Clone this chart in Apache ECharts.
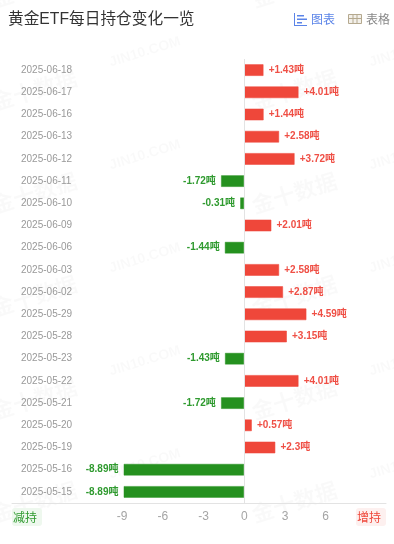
<!DOCTYPE html>
<html><head><meta charset="utf-8">
<style>html,body{margin:0;padding:0;background:#fff}#c{width:394px;height:544px}</style>
<script src="https://cdn.jsdelivr.net/npm/echarts@6/dist/echarts.min.js"></script>
</head><body><div id="c"></div>
<script>
const dates = ['2025-06-18','2025-06-17','2025-06-16','2025-06-13','2025-06-12','2025-06-11','2025-06-10','2025-06-09','2025-06-06','2025-06-03','2025-06-02','2025-05-29','2025-05-28','2025-05-23','2025-05-22','2025-05-21','2025-05-20','2025-05-19','2025-05-16','2025-05-15'];
const changes = [1.43,4.01,1.44,2.58,3.72,-1.72,-0.31,2.01,-1.44,2.58,2.87,4.59,3.15,-1.43,4.01,-1.72,0.57,2.3,-8.89,-8.89];
const xTicks = [-9,-6,-3,0,3,6];
const FONT = '"Liberation Sans","Noto Sans CJK SC",sans-serif';
const RED = '#ef473a', GREEN = '#25911f';

const chart = echarts.init(document.getElementById('c'), null, {renderer:'canvas'});
const graphics = [];
// watermark tiles
for (let row = 0; row < 6; row++) {
  const y = -11 + row * 103;
  [35, 295].forEach(x => graphics.push({type:'text', silent:true, z:0, x, y, rotation:0.3,
    style:{text:'金十数据', font:'bold 22px '+FONT, fill:'rgba(0,0,0,0.022)', align:'center', verticalAlign:'middle'}}));
  [145, 405].forEach(x => graphics.push({type:'text', silent:true, z:0, x, y:y+63, rotation:0.3,
    style:{text:'JIN10.COM', font:'bold 14px '+FONT, fill:'rgba(0,0,0,0.022)', align:'center', verticalAlign:'middle', letterSpacing:2}}));
}
// tab icons and labels
const BLUE = '#5b84e8', TAB = '#888';
[[294,13,1,13,BLUE],[294,25,13,1,BLUE],[297,15,7,1.5,BLUE],[297,18.5,10,1.5,BLUE],[297,22,5,1.5,BLUE]].forEach(r=>
  graphics.push({type:'rect', silent:true, shape:{x:r[0],y:r[1],width:r[2],height:r[3]}, style:{fill:r[4]}}));
graphics.push({type:'rect', silent:true, shape:{x:348.5,y:14.5,width:13,height:9}, style:{fill:'#f3f0ea',stroke:'#b5a98f',lineWidth:1}});
[[352.5,14,1,10],[356.5,14,1,10],[349,18,13,1]].forEach(r=>
  graphics.push({type:'rect', silent:true, shape:{x:r[0],y:r[1],width:r[2],height:r[3]}, style:{fill:'#b5a98f'}}));
graphics.push({type:'text', silent:true, x:311, y:20.5, style:{text:'图表', font:'12px '+FONT, fill:BLUE, verticalAlign:'middle'}});
graphics.push({type:'text', silent:true, x:366, y:20.5, style:{text:'表格', font:'12px '+FONT, fill:TAB, verticalAlign:'middle'}});
// badges
graphics.push({type:'rect', silent:true, shape:{x:12,y:508,width:30,height:18,r:3}, style:{fill:'#eef8ee'}});
graphics.push({type:'text', silent:true, x:25, y:518.5, style:{text:'减持', font:'12px '+FONT, fill:'#2f9a2f', align:'center', verticalAlign:'middle'}});
graphics.push({type:'rect', silent:true, shape:{x:356,y:508,width:30,height:18,r:3}, style:{fill:'#fdf0ef'}});
graphics.push({type:'text', silent:true, x:369, y:518.5, style:{text:'增持', font:'12px '+FONT, fill:'#ef473a', align:'center', verticalAlign:'middle'}});

chart.setOption({
  animation:false,
  backgroundColor:'#fff',
  title:{text:'黄金ETF每日持仓变化一览', left:8, top:12, padding:0, textStyle:{fontSize:15.7, fontWeight:'normal', color:'#333', fontFamily:FONT}},
  grid:{left:12, right:8, top:59, bottom:41, containLabel:false},
  xAxis:{type:'value', min:-17.1, max:10.44, position:'bottom',
    splitLine:{show:false},
    axisTick:{show:false},
    axisLine:{show:true, onZero:false, lineStyle:{color:'#e3e3e3', width:1}},
    axisLabel:{customValues:xTicks, color:'#a5a5a5', fontSize:12, margin:8, fontFamily:FONT, showMinLabel:true, showMaxLabel:true}},
  yAxis:{type:'category', data:dates, inverse:true,
    axisLine:{show:false, onZero:false}, axisTick:{show:false}, splitLine:{show:false},
    axisLabel:{inside:true, margin:9, color:'#999', fontSize:10, fontFamily:FONT, interval:0}},
  series:[{
    type:'bar', barWidth:12, z:3,
    data:changes.map(v=>({value:v,
      itemStyle:{color:v>=0?RED:GREEN, borderWidth:1, borderColor:v>=0?'rgba(239,71,58,0.55)':'rgba(37,145,31,0.45)'},
      label:{position:v>=0?'right':'left', color:v>=0?'#ef4f45':'#2f9a2f'}})),
    label:{show:true, distance:5, fontSize:10, fontWeight:'bold', fontFamily:FONT,
      formatter:p=>(p.value>=0?'+':'')+p.value+'吨'},
    markLine:{silent:true, symbol:'none', label:{show:false}, animation:false,
      lineStyle:{color:'#e3e3e3', width:1, type:'solid'}, data:[{xAxis:0}]}
  }],
  graphic:graphics
});
</script></body></html>
